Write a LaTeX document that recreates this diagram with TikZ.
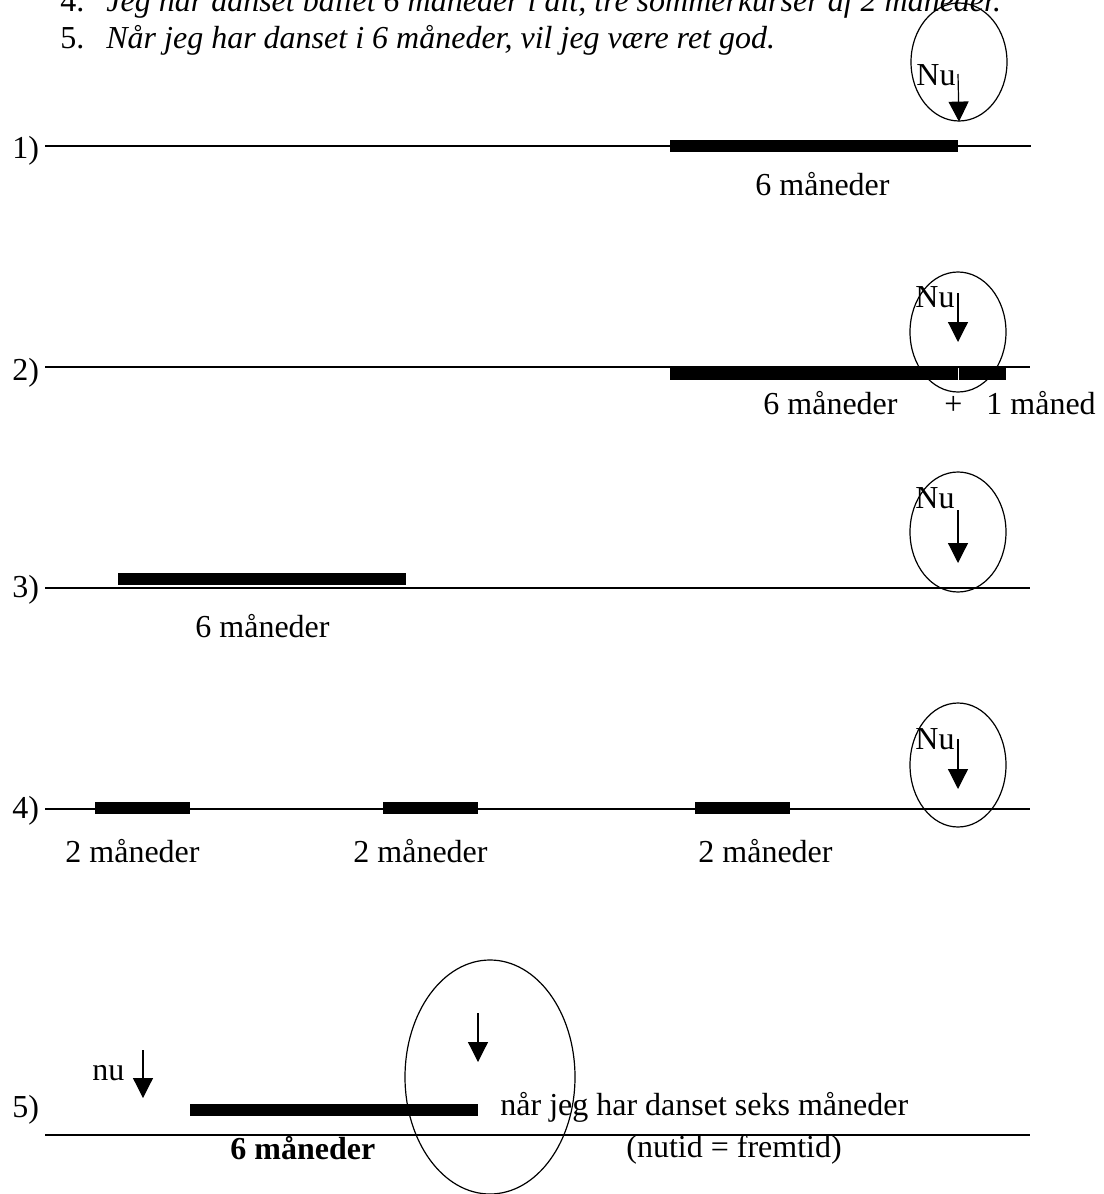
\documentclass[tikz,border=0pt]{standalone}
\usepackage{fontspec}
\setmainfont{Liberation Serif}
\usetikzlibrary{shapes.geometric, arrows.meta}

\begin{document}
\begin{tikzpicture}[x=0.5pt, y=-0.5pt,
		every node/.style={font=\fontsize{16}{19}\selectfont, inner sep=0pt},
		txt/.style={anchor=base west},
		timeline/.style={line width=1pt},
		period/.style={line width=6pt},
		ring/.style={draw, ellipse, line width=0.6pt, minimum width=48pt, minimum height=60pt},
		nowarrow/.style={line width=0.6pt, -{Triangle[length=10pt,width=10pt]}}]
		\useasboundingbox (0,0) rectangle (1103,1194);

		% Sentences
		\node[txt] (num4) at (60,11) {4.};
		\node[txt] (sent4) at (106,11) {\itshape Jeg har danset ballet 6 måneder i alt, tre sommerkurser af 2 måneder.};
		\node[txt] (num5) at (60,48) {5.};
		\node[txt] (sent5) at (106,48) {\itshape Når jeg har danset i 6 måneder, vil jeg være ret god.};

		% Row 1
		\node[txt] (row1) at (12,158) {1)};
		\coordinate (l1a) at (45,146);
		\coordinate (l1b) at (1031,146);
		\draw[timeline] (l1a) -- (l1b);
		\coordinate (b1a) at (670,146);
		\coordinate (b1b) at (958,146);
		\draw[period] (b1a) -- (b1b);
		\node[txt] (len1) at (755,195) {6 måneder};
		\node[ring, minimum height=59pt] (ring1) at (959,62) {};
		\node[txt] (nu1) at (916,85) {Nu};
		\coordinate (a1) at (958,74);
		\draw[nowarrow] (a1) -- (ring1.south);

		% Row 2
		\node[txt] (row2) at (12,380) {2)};
		\coordinate (l2a) at (45,367);
		\coordinate (l2b) at (1030,367);
		\draw[timeline] (l2a) -- (l2b);
		\coordinate (b2a) at (670,374);
		\coordinate (b2b) at (957.5,374);
		\coordinate (b2c) at (958.5,374);
		\coordinate (b2d) at (1006,374);
		\draw[period] (b2a) -- (b2b);
		\draw[period] (b2c) -- (b2d);
		\node[txt] (len2) at (763,414) {6 måneder};
		\node[txt] (plus2) at (944,414) {+};
		\node[txt] (len2b) at (986,414) {1 måned};
		\node[ring] (ring2) at (958,332) {};
		\node[txt] (nu2) at (915,307) {Nu};
		\coordinate (a2) at (958,293);
		\coordinate (t2) at (958,342);
		\draw[nowarrow] (a2) -- (t2);

		% Row 3
		\node[txt] (row3) at (12,597) {3)};
		\coordinate (l3a) at (45,588);
		\coordinate (l3b) at (1030,588);
		\draw[timeline] (l3a) -- (l3b);
		\coordinate (b3a) at (118,579);
		\coordinate (b3b) at (406,579);
		\draw[period] (b3a) -- (b3b);
		\node[txt] (len3) at (195,637) {6 måneder};
		\node[ring] (ring3) at (958,532) {};
		\node[txt] (nu3) at (915,508) {Nu};
		\coordinate (a3) at (958,510);
		\coordinate (t3) at (958,563);
		\draw[nowarrow] (a3) -- (t3);

		% Row 4
		\node[txt] (row4) at (12,818) {4)};
		\coordinate (l4a) at (45,809);
		\coordinate (l4b) at (1030,809);
		\draw[timeline] (l4a) -- (l4b);
		\foreach \xa/\xb/\xt [count=\i] in {95/190/65, 383/478/353, 695/790/698} {
			\coordinate (b4a\i) at (\xa,808);
			\coordinate (b4b\i) at (\xb,808);
			\draw[period] (b4a\i) -- (b4b\i);
			\node[txt] (len4\i) at (\xt,862) {2 måneder};
		}
		\node[ring, minimum height=62pt] (ring4) at (958,765) {};
		\node[txt] (nu4) at (915,749) {Nu};
		\coordinate (a4) at (958,739);
		\coordinate (t4) at (958,789);
		\draw[nowarrow] (a4) -- (t4);

		% Row 5
		\node[txt] (row5) at (12,1117) {5)};
		\node[txt] (nu5) at (92,1080) {nu};
		\coordinate (a5) at (143,1050);
		\coordinate (t5) at (143,1098);
		\draw[nowarrow] (a5) -- (t5);
		\coordinate (l5a) at (45,1135);
		\coordinate (l5b) at (1030,1135);
		\draw[timeline] (l5a) -- (l5b);
		\coordinate (b5a) at (190,1110);
		\coordinate (b5b) at (478,1110);
		\draw[period] (b5a) -- (b5b);
		\node[txt, font=\fontsize{16}{19}\selectfont\bfseries] (len5) at (230,1159) {6 måneder};
		\node[ring, minimum width=85pt, minimum height=117pt] (ring5) at (490,1077) {};
		\coordinate (a5b) at (478,1013);
		\coordinate (t5b) at (478,1062);
		\draw[nowarrow] (a5b) -- (t5b);
		\node[txt] (when5) at (500,1115) {når jeg har danset seks måneder};
		\node[txt] (tense5) at (626,1157) {(nutid = fremtid)};
	\end{tikzpicture}
\end{document}
